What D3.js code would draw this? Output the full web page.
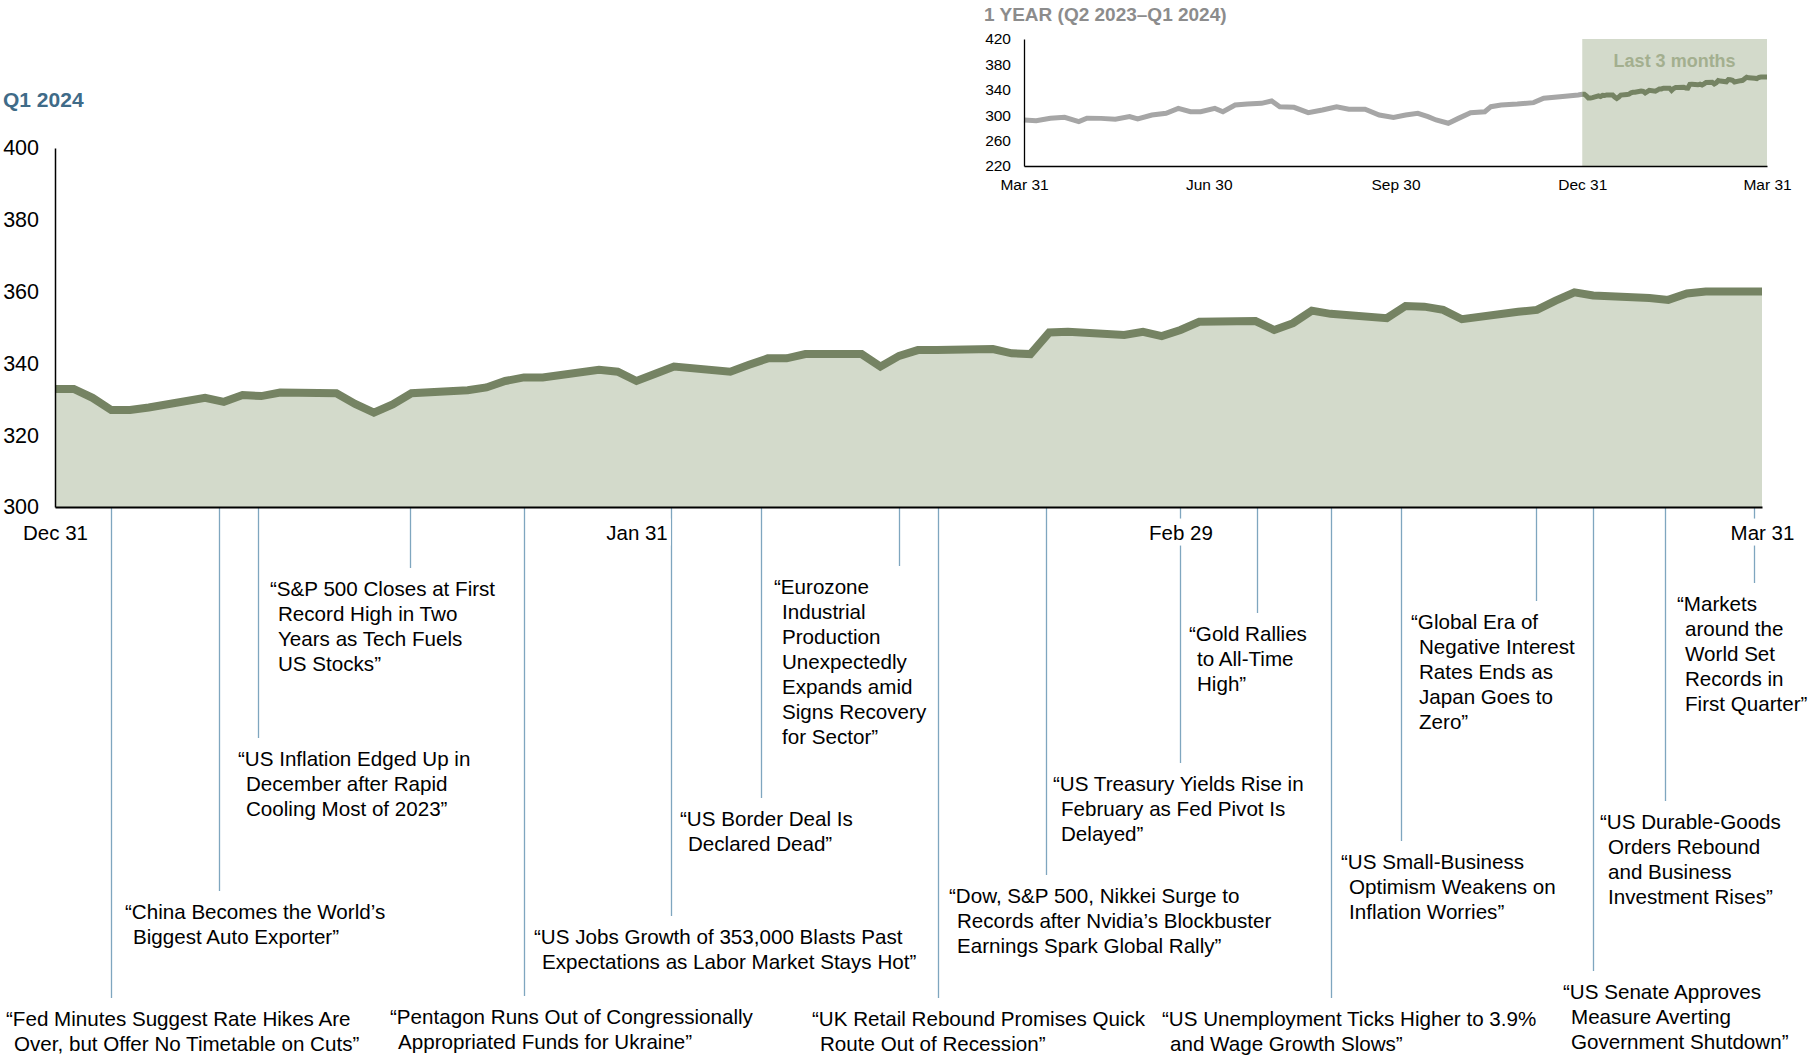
<!DOCTYPE html>
<html>
<head>
<meta charset="utf-8">
<script src="https://cdn.jsdelivr.net/npm/d3@7"></script>
<style>
  body { margin: 0; background: #fff; }
  text { font-family: "Liberation Sans", Arial, Helvetica, sans-serif; }
</style>
</head>
<body>
<svg id="chart" width="1808" height="1061"></svg>
<script>
//// Q1 2024 daily levels (holidays carried forward)
const dates = ["2023-12-31","2024-01-01","2024-01-02","2024-01-03","2024-01-04","2024-01-05",
  "2024-01-08","2024-01-09","2024-01-10","2024-01-11","2024-01-12","2024-01-15","2024-01-16",
  "2024-01-17","2024-01-18","2024-01-19","2024-01-22","2024-01-23","2024-01-24","2024-01-25",
  "2024-01-26","2024-01-29","2024-01-30","2024-01-31","2024-02-01","2024-02-02","2024-02-05",
  "2024-02-06","2024-02-07","2024-02-08","2024-02-09","2024-02-12","2024-02-13","2024-02-14",
  "2024-02-15","2024-02-16","2024-02-19","2024-02-20","2024-02-21","2024-02-22","2024-02-23",
  "2024-02-26","2024-02-27","2024-02-28","2024-02-29","2024-03-01","2024-03-04","2024-03-05",
  "2024-03-06","2024-03-07","2024-03-08","2024-03-11","2024-03-12","2024-03-13","2024-03-14",
  "2024-03-15","2024-03-18","2024-03-19","2024-03-20","2024-03-21","2024-03-22","2024-03-25",
  "2024-03-26","2024-03-27","2024-03-28","2024-03-29","2024-03-31"];
const values = [332.9,332.9,330.4,327.0,327.0,327.7,
  330.4,329.3,331.2,330.9,331.9,331.7,328.7,
  326.3,328.6,331.7,332.5,333.3,335.1,336.1,
  336.1,338.2,337.7,335.1,337.1,339.1,337.7,
  339.6,341.4,341.4,342.6,342.6,339.1,342.1,
  343.7,343.7,344.0,342.8,342.6,348.6,348.8,
  347.9,348.8,347.6,349.3,351.6,351.8,349.3,
  351.2,354.7,353.8,352.6,356.0,355.8,354.9,
  352.3,354.4,354.9,357.5,359.8,358.9,358.2,
  357.7,359.5,360.0,360.0,360.0];

//// 1 year inset, Q2-Q4 2023 part (grey)
const yearDates = ["2023-03-31","2023-04-06","2023-04-13","2023-04-20","2023-04-27","2023-05-01",
  "2023-05-08","2023-05-15","2023-05-22","2023-05-26","2023-06-02","2023-06-09","2023-06-15",
  "2023-06-21","2023-06-26","2023-07-03","2023-07-07","2023-07-13","2023-07-19","2023-07-26",
  "2023-07-31","2023-08-04","2023-08-11","2023-08-18","2023-08-25","2023-09-01","2023-09-07",
  "2023-09-15","2023-09-22","2023-09-29","2023-10-05","2023-10-11","2023-10-16","2023-10-20",
  "2023-10-26","2023-10-31","2023-11-06","2023-11-13","2023-11-16","2023-11-21","2023-11-29",
  "2023-12-07","2023-12-12","2023-12-20","2023-12-29"];
const yearValues = [292.5,291.4,295.1,296.6,289.8,295.1,
  295.0,293.5,297.7,294.0,300.3,303.0,310.8,
  305.5,305.5,310.8,305.5,316.0,317.6,318.7,
  322.4,313.4,312.4,304.0,308.2,313.4,309.3,
  309.3,300.3,296.6,300.3,303.0,297.7,292.5,
  287.3,295.0,304.0,305.5,313.4,316.0,317.6,
  319.8,326.6,329.2,331.8];

//// headlines
const eventDates = ["2024-01-03","2024-01-09","2024-01-11","2024-01-19","2024-01-25","2024-02-02",
  "2024-02-07","2024-02-14","2024-02-16","2024-02-22","2024-02-29","2024-03-04","2024-03-08",
  "2024-03-12","2024-03-19","2024-03-22","2024-03-26","2024-03-31"];
const eventTexts = [
  "“Fed Minutes Suggest Rate Hikes Are|Over, but Offer No Timetable on Cuts”",
  "“China Becomes the World’s|Biggest Auto Exporter”",
  "“US Inflation Edged Up in|December after Rapid|Cooling Most of 2023”",
  "“S&P 500 Closes at First|Record High in Two|Years as Tech Fuels|US Stocks”",
  "“Pentagon Runs Out of Congressionally|Appropriated Funds for Ukraine”",
  "“US Jobs Growth of 353,000 Blasts Past|Expectations as Labor Market Stays Hot”",
  "“US Border Deal Is|Declared Dead”",
  "“Eurozone|Industrial|Production|Unexpectedly|Expands amid|Signs Recovery|for Sector”",
  "“UK Retail Rebound Promises Quick|Route Out of Recession”",
  "“Dow, S&P 500, Nikkei Surge to|Records after Nvidia’s Blockbuster|Earnings Spark Global Rally”",
  "“US Treasury Yields Rise in|February as Fed Pivot Is|Delayed”",
  "“Gold Rallies|to All-Time|High”",
  "“US Unemployment Ticks Higher to 3.9%|and Wage Growth Slows”",
  "“US Small-Business|Optimism Weakens on|Inflation Worries”",
  "“Global Era of|Negative Interest|Rates Ends as|Japan Goes to|Zero”",
  "“US Senate Approves|Measure Averting|Government Shutdown”",
  "“US Durable-Goods|Orders Rebound|and Business|Investment Rises”",
  "“Markets|around the|World Set|Records in|First Quarter”"
];

//// ticks
const yTicks = [300, 320, 340, 360, 380, 400];
const xTicks = ["2023-12-31","2024-01-31","2024-02-29","2024-03-31"];
const insetYTicks = [220, 260, 300, 340, 380, 420];
const insetXTicks = ["2023-03-31","2023-06-30","2023-09-30","2023-12-31","2024-03-31"];

// where each headline sits: left x, first baseline
const labelPos = [[6,1026],[125,919],[238,766],[270,596],[390,1024],[534,944],
  [680,826],[774,594],[812,1026],[949,903],[1053,791],[1189,641],
  [1162,1026],[1341,869],[1411,629],[1563,999],[1600,829],[1677,611]];
// small pixel shifts of the connector lines, as hand placed in the original
const connectorNudge = [0,-4.5,-3.5,-1,0,-3.5,-7,0,1,-3.5,0,1,0,-4.5,-1,0,-3.5,-8];

const parse = d3.timeParse("%Y-%m-%d");
const fmt = d3.timeFormat("%b %-d");
const q1 = dates.map((d, i) => ({date: parse(d), value: values[i]}));
const year = yearDates.map((d, i) => ({date: parse(d), value: yearValues[i]}));

const green = "#758363", fill = "#d3dacb", blue = "#7fa6bf";
const svg = d3.select("#chart");

//// main chart
const x = d3.scaleTime().domain([parse("2023-12-31"), parse("2024-03-31")]).range([55, 1762]);
const y = d3.scaleLinear().domain([300, 400]).range([507, 148]);

svg.append("text")
  .attr("x", 3).attr("y", 107)
  .attr("font-size", 21).attr("font-weight", "bold").attr("fill", "#3f6b88")
  .text("Q1 2024");

svg.append("path")
  .datum(q1)
  .attr("fill", fill)
  .attr("d", d3.area().x(d => x(d.date)).y0(y(300)).y1(d => y(d.value)));

svg.append("path")
  .datum(q1)
  .attr("fill", "none")
  .attr("stroke", green)
  .attr("stroke-width", 8)
  .attr("d", d3.line().x(d => x(d.date)).y(d => y(d.value)));

// connectors from axis down to each headline
svg.selectAll(".connector")
  .data(eventDates)
  .join("line")
  .attr("class", "connector")
  .attr("x1", (d, i) => Math.round(x(parse(d)) + connectorNudge[i]) + 0.5)
  .attr("x2", (d, i) => Math.round(x(parse(d)) + connectorNudge[i]) + 0.5)
  .attr("y1", y(300))
  .attr("y2", (d, i) => labelPos[i][1] - 28)
  .attr("stroke", blue)
  .attr("stroke-width", 1.3);

const yAxis = svg.append("g")
  .attr("transform", "translate(55,0)")
  .call(d3.axisLeft(y).tickValues(yTicks).tickSize(0).tickSizeOuter(0).tickPadding(16));
yAxis.select(".domain").attr("stroke", "#000").attr("stroke-width", 1.5);
yAxis.selectAll("text").attr("font-size", 21.5).attr("fill", "#000")
  .style("font-family", '"Liberation Sans", Arial, sans-serif');

const xAxis = svg.append("g")
  .attr("transform", "translate(0," + y(300) + ")")
  .call(d3.axisBottom(x).tickValues(xTicks.map(parse)).tickFormat(fmt)
    .tickSize(0).tickSizeOuter(0).tickPadding(18));
xAxis.select(".domain").attr("stroke", "#000").attr("stroke-width", 2);
xAxis.selectAll("text").attr("font-size", 20.5).attr("fill", "#000")
  .style("font-family", '"Liberation Sans", Arial, sans-serif');
// white box behind tick labels so connectors break around them
xAxis.selectAll(".tick").each(function() {
  const t = d3.select(this).select("text");
  const b = t.node().getBBox();
  d3.select(this).insert("rect", "text")
    .attr("x", b.x - 3).attr("y", b.y - 2)
    .attr("width", b.width + 6).attr("height", b.height + 4)
    .attr("fill", "#fff");
});

// headline texts
svg.selectAll(".headline")
  .data(eventTexts)
  .join("text")
  .attr("class", "headline")
  .attr("font-size", 20.6)
  .attr("fill", "#000")
  .each(function(d, i) {
    const lines = d.split("|");
    d3.select(this).selectAll("tspan")
      .data(lines)
      .join("tspan")
      .attr("x", (l, j) => labelPos[i][0] + (j == 0 ? 0 : 8))
      .attr("y", (l, j) => labelPos[i][1] + j * 25)
      .text(l => l);
  });

//// inset: 1 year
const xi = d3.scaleTime().domain([parse("2023-03-31"), parse("2024-03-31")]).range([1024, 1767]);
const yi = d3.scaleLinear().domain([220, 420]).range([166, 39]);

svg.append("text")
  .attr("x", 984).attr("y", 21)
  .attr("font-size", 19).attr("font-weight", "bold").attr("fill", "#8c8c8c")
  .text("1 YEAR (Q2 2023–Q1 2024)");

svg.append("rect")
  .attr("x", xi(parse("2023-12-31")))
  .attr("y", yi(420))
  .attr("width", xi(parse("2024-03-31")) - xi(parse("2023-12-31")))
  .attr("height", yi(220) - yi(420))
  .attr("fill", fill);

svg.append("text")
  .attr("x", (xi(parse("2023-12-31")) + xi(parse("2024-03-31"))) / 2)
  .attr("y", 67)
  .attr("text-anchor", "middle")
  .attr("font-size", 18).attr("font-weight", "bold").attr("fill", "#a3af8f")
  .text("Last 3 months");

const insetLine = d3.line().x(d => xi(d.date)).y(d => yi(d.value));

svg.append("path")
  .datum(year.concat([q1[0]]))
  .attr("fill", "none")
  .attr("stroke", "#a6a6a6")
  .attr("stroke-width", 5)
  .attr("d", insetLine);

svg.append("path")
  .datum(q1)
  .attr("fill", "none")
  .attr("stroke", green)
  .attr("stroke-width", 5)
  .attr("d", insetLine);

const yAxisI = svg.append("g")
  .attr("transform", "translate(1024,0)")
  .call(d3.axisLeft(yi).tickValues(insetYTicks).tickSize(0).tickSizeOuter(0).tickPadding(13));
yAxisI.select(".domain").attr("stroke", "#000").attr("stroke-width", 1.3);
yAxisI.selectAll("text").attr("font-size", 15.5).attr("fill", "#000")
  .style("font-family", '"Liberation Sans", Arial, sans-serif');

const xAxisI = svg.append("g")
  .attr("transform", "translate(0," + yi(220) + ")")
  .call(d3.axisBottom(xi).tickValues(insetXTicks.map(parse)).tickFormat(fmt)
    .tickSize(0).tickSizeOuter(0).tickPadding(13));
xAxisI.select(".domain").attr("stroke", "#000").attr("stroke-width", 1.3);
xAxisI.selectAll("text").attr("font-size", 15.5).attr("fill", "#000")
  .style("font-family", '"Liberation Sans", Arial, sans-serif');
</script>
</body>
</html>
